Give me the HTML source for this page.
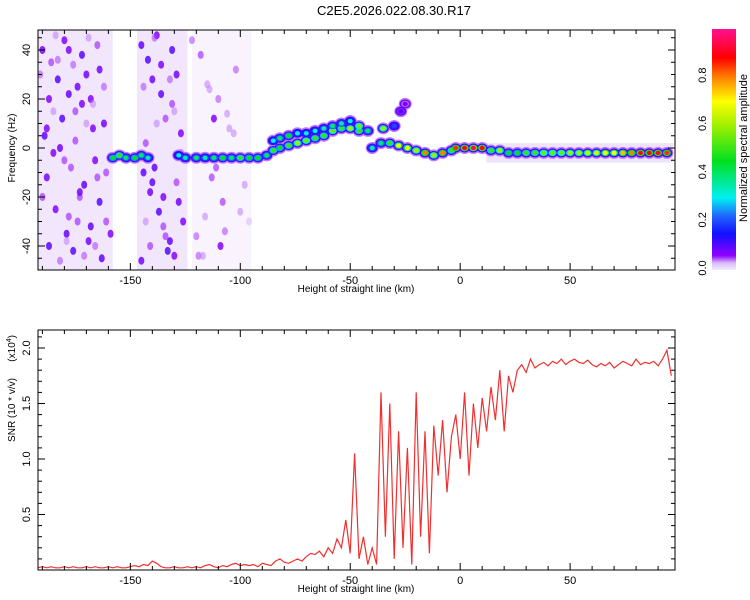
<!DOCTYPE html>
<html><head><meta charset="utf-8"><style>
body{margin:0;background:#fff;}
svg{display:block;font-family:"Liberation Sans",sans-serif;}
</style></head><body>
<svg id="c" width="750" height="600">
<defs>
<linearGradient id="cbg" x1="0" y1="1" x2="0" y2="0">
<stop offset="0" stop-color="#f4ecfc"/><stop offset="0.03" stop-color="#d8b8f8"/><stop offset="0.06" stop-color="#9000ff"/><stop offset="0.15" stop-color="#1010ff"/><stop offset="0.22" stop-color="#2060ff"/><stop offset="0.3" stop-color="#00f0f0"/><stop offset="0.45" stop-color="#00e020"/><stop offset="0.6" stop-color="#a0f000"/><stop offset="0.7" stop-color="#ffff00"/><stop offset="0.8" stop-color="#ff8000"/><stop offset="0.88" stop-color="#ff0000"/><stop offset="1" stop-color="#ff1090"/>
</linearGradient>
<clipPath id="clipTop"><rect x="38" y="30" width="637" height="240"/></clipPath>
<clipPath id="clipBot"><rect x="38" y="330" width="637" height="240"/></clipPath>
</defs>
<text x="394" y="15" text-anchor="middle" font-size="13">C2E5.2026.022.08.30.R17</text>
<g id="topG" clip-path="url(#clipTop)"></g>
<g id="topAxes"></g>
<g id="bot" clip-path="url(#clipBot)"></g>
<g id="botAxes"></g>
<rect x="712" y="29" width="24" height="241" fill="url(#cbg)"/>
<g id="cb"></g>
<text transform="translate(747,148) rotate(-90)" text-anchor="middle" font-size="11">Normalized spectral amplitude</text>
</svg>
<script>
const snrStart=-192, snrStep=2;
const snrValues=[0.02,0.03,0.02,0.03,0.02,0.02,0.03,0.02,0.03,0.02,0.02,0.03,0.02,0.03,0.02,0.02,0.03,0.02,0.03,0.02,0.02,0.03,0.04,0.03,0.05,0.04,0.08,0.06,0.03,0.02,0.02,0.03,0.02,0.02,0.03,0.02,0.03,0.02,0.04,0.05,0.03,0.02,0.04,0.03,0.05,0.06,
0.04,0.05,0.04,0.05,0.03,0.06,0.05,0.04,0.08,0.1,0.07,0.06,0.08,0.1,0.08,
0.12,0.15,0.14,0.17,0.12,0.2,0.15,0.28,0.2,0.45,
0.15,1.05,0.1,0.3,0.05,0.2,0.05,
1.6,0.3,1.5,0.1,1.25,0.2,1.1,0.05,1.6,0.3,1.25,0.15,
1.3,0.85,1.35,0.7,1.2,1.4,1.0,1.6,0.85,1.5,1.1,1.55,1.25,1.65,1.35,1.8,1.25,1.75,
1.6,1.8,1.85,1.78,1.9,1.82,1.85,1.87,1.84,1.88,1.86,1.9,1.85,1.88,1.9,1.87,1.86,1.89,1.85,1.83,1.86,1.84,1.87,1.82,1.85,1.88,1.86,1.84,1.9,1.85,1.87,1.86,1.88,1.84,1.9,1.98,
1.75];
const ridgeX=[-158,-155,-152,-148,-145,-142,-128,-125,-120,-116,-112,-108,-104,-100,-96,-92,-88,-85,-82,-78,-74,-70,-66,-62,-58,-54,-50,-46,-42,
-85,-82,-78,-74,-70,-66,-62,-58,-54,-50,-46,-35,-30,-27,-25,
-40,-36,-32,-28,-24,-20,-16,-12,-8,-4,-2,2,6,10,14,18,22,26,30,34,38,42,46,50,54,58,62,66,70,74,78,82,86,90,94];
const ridgeF=[-4,-3,-4,-4,-3,-4,-3,-4,-4,-4,-4,-4,-4,-4,-4,-4,-3,-1,0,1,2,3,4,5,7,8,8,7,7,
3,4,5,6,6,7,8,9,10,11,9,8,9,15,18,
0,2,2,1,0,-1,-2,-3,-2,-1,0,0,0,0,-1,-1,-2,-2,-2,-2,-2,-2,-2,-2,-2,-2,-2,-2,-2,-2,-2,-2,-2,-2,-2];
const ridgeA=[0.45,0.5,0.4,0.45,0.4,0.35,0.3,0.35,0.4,0.35,0.4,0.45,0.4,0.5,0.45,0.45,0.4,0.5,0.45,0.5,0.6,0.55,0.5,0.5,0.55,0.5,0.6,0.5,0.4,
0.3,0.4,0.45,0.3,0.3,0.3,0.35,0.4,0.35,0.3,0.55,0.6,0.2,0.1,0.08,
0.35,0.4,0.5,0.7,0.7,0.6,0.8,0.6,0.8,0.5,0.85,0.9,0.95,0.9,0.5,0.6,0.45,0.45,0.5,0.5,0.55,0.55,0.55,0.6,0.6,0.65,0.65,0.7,0.7,0.75,0.8,0.9,0.9,0.9,0.85];
const noiseX=[-190,-186,-183,-180,-178,-175,-172,-170,-168,-165,-162,-189,-185,-181,-177,-174,-171,-167,-164,-161,-188,-184,-179,-176,-173,-169,-166,-163,-187,-182,-178,-172,-168,-164,
-145,-142,-140,-138,-136,-134,-131,-129,-127,-144,-141,-137,-135,-132,-130,-128,-143,-139,-133,-126,-145,-140,-136,-131,
-122,-118,-115,-112,-110,-108,-120,-116,-113,-109,-105,-102,-98,-96,-119,-111,-106,
-191,-187,-184,-180,-176,-173,-169,-165,-162,-159,-190,-185,-182,-178,-174,-170,-166,-161,-188,-183,-179,-175,-171,-167,
-144,-141,-138,-135,-132,-129,-143,-139,-134,-130,-127,-117,-114,-107,-103,-100];
const noiseF=[40,35,28,44,22,15,38,30,20,42,10,5,-2,12,-8,25,-15,8,-22,-30,-12,-25,-35,-42,-20,-38,-5,-45,-40,0,-28,18,-32,32,
42,36,28,46,22,12,40,30,6,-10,-18,-26,-32,-38,-44,-22,2,-8,-42,-30,-46,-14,34,18,
44,38,26,12,20,-22,-36,-28,-12,-40,8,32,-15,-30,-44,-8,14,
30,20,46,-5,34,-18,45,-12,25,-35,-20,15,-46,40,-30,10,-40,-10,8,36,-38,3,-44,18,
25,-40,10,-20,28,-14,-30,45,-36,15,-2,-44,24,-34,6,-26];
const noiseA=[0.08,0.06,0.1,0.07,0.09,0.06,0.1,0.08,0.07,0.06,0.08,0.09,0.07,0.1,0.06,0.08,0.09,0.07,0.1,0.06,0.08,0.07,0.09,0.1,0.06,0.08,0.07,0.09,0.1,0.08,0.06,0.07,0.09,0.08,
0.09,0.1,0.08,0.07,0.09,0.06,0.1,0.08,0.07,0.09,0.08,0.1,0.06,0.09,0.07,0.08,0.06,0.09,0.1,0.07,0.08,0.09,0.07,0.06,
0.05,0.06,0.04,0.07,0.05,0.06,0.05,0.04,0.06,0.07,0.04,0.05,0.04,0.03,0.05,0.06,0.04,
0.05,0.07,0.04,0.06,0.05,0.08,0.04,0.06,0.05,0.07,0.06,0.04,0.05,0.07,0.06,0.04,0.05,0.06,0.07,0.05,0.04,0.06,0.05,0.04,
0.05,0.06,0.04,0.07,0.05,0.06,0.04,0.05,0.06,0.04,0.05,0.04,0.04,0.05,0.04,0.04];
const xTicks=[-150,-100,-50,0,50];
const freqTicks=[-40,-20,0,20,40];
const snrTicks=[0.5,1.0,1.5,2.0];
const cbTicks=[0.0,0.2,0.4,0.6,0.8];

const NS="http://www.w3.org/2000/svg";
const X0=38,X1=675,XMIN=-192,XMAX=97.7;
const sx=v=>X0+(v-XMIN)/(XMAX-XMIN)*(X1-X0);
const syF=f=>148-f*2.45;
const syS=s=>570-s*111;
function mk(t,a,p){const e=document.createElementNS(NS,t);for(const k in a)e.setAttribute(k,a[k]);(p||document.getElementById('c')).appendChild(e);return e;}
const stops=[[0,[244,236,252]],[0.03,[216,184,248]],[0.06,[144,0,255]],[0.15,[16,16,255]],[0.22,[32,96,255]],[0.3,[0,240,240]],[0.45,[0,224,32]],[0.6,[160,240,0]],[0.7,[255,255,0]],[0.8,[255,128,0]],[0.88,[255,0,0]],[1,[255,16,144]]];
function cmap(v){v=Math.max(0,Math.min(1,v));for(let i=1;i<stops.length;i++){if(v<=stops[i][0]){const[a,ca]=stops[i-1],[b,cb]=stops[i];const t=(v-a)/(b-a);return`rgb(${ca.map((c,j)=>Math.round(c+(cb[j]-c)*t)).join(',')})`;}}return'rgb(255,16,144)';}

const topG=document.getElementById('topG');
[[-192,-158],[-147,-124],[-122,-95]].forEach((r,i)=>{const h=mk('rect',{x:sx(r[0]),y:30,width:sx(r[1])-sx(r[0]),height:240,fill:i==2?'#f8f3fd':'#f1e6fb'},topG);

});
const band=mk('rect',{x:sx(12),y:syF(2),width:sx(97)-sx(12),height:syF(-6)-syF(2),fill:'#efe3fa'},topG);


noiseX.forEach((x,i)=>{const a=noiseA[i];const e=mk('ellipse',{cx:sx(x),cy:syF(noiseF[i]),rx:3,ry:4,fill:cmap(a),'fill-opacity':a>0.065?0.85:0.55},topG);

});
[[0.04,6.5,6],[0.12,5.5,4.5]].forEach(l=>{ridgeX.forEach((x,i)=>{mk('ellipse',{cx:sx(x),cy:syF(ridgeF[i]),rx:l[1],ry:l[2],fill:cmap(Math.min(l[0],ridgeA[i]))},topG);});});
ridgeX.forEach((x,i)=>{const a=ridgeA[i];
mk('ellipse',{cx:sx(x),cy:syF(ridgeF[i]),rx:4,ry:3.2,fill:cmap(a*0.55)},topG);
const e=mk('ellipse',{cx:sx(x),cy:syF(ridgeF[i]),rx:2.5,ry:2.2,fill:cmap(a)},topG);

});

function axes(g,y0,y1,yt,syf,ylabel,ly){
 const G=document.getElementById(g);
 const f=mk('rect',{x:X0,y:y0,width:X1-X0,height:y1-y0,fill:'none',stroke:'#000','stroke-width':1},G);
 
 
 for(let v=-190;v<=95;v+=10){const L=v%50==0?7:4;mk('line',{x1:sx(v),x2:sx(v),y1:y1,y2:y1-L,stroke:'#000'},G);mk('line',{x1:sx(v),x2:sx(v),y1:y0,y2:y0+L,stroke:'#000'},G);}
 xTicks.forEach(v=>{const t=mk('text',{x:sx(v),y:y1+14,'text-anchor':'middle','font-size':11},G);t.textContent=v;
 
 });
 const xt=mk('text',{x:356,y:y1+22,'text-anchor':'middle','font-size':10},G);xt.textContent='Height of straight line (km)';
 
 
 yt.minor.forEach(v=>{const y=syf(v);const L=yt.major.includes(v)?7:4;mk('line',{x1:X0,x2:X0+L,y1:y,y2:y,stroke:'#000'},G);mk('line',{x1:X1,x2:X1-L,y1:y,y2:y,stroke:'#000'},G);});
 yt.major.forEach(v=>{const t=mk('text',{transform:`translate(${X0-8},${syf(v)}) rotate(-90)`,'text-anchor':'middle','font-size':11},G);t.textContent=yt.fmt(v);
 
 });
 const yl=mk('text',{transform:`translate(15,${ly}) rotate(-90)`,'text-anchor':'middle','font-size':10},G);yl.textContent=ylabel;
 
 
}
const fm=[];for(let v=-45;v<=45;v+=5)fm.push(v);
axes('topAxes',30,270,{major:freqTicks,minor:fm,fmt:v=>v},syF,'Frequency (Hz)',148);
const sm=[];for(let v=0.1;v<2.15;v+=0.1)sm.push(Math.round(v*10)/10);
axes('botAxes',330,570,{major:snrTicks,minor:sm,fmt:v=>v.toFixed(1)},syS,'SNR (10 * v/v)',410);
const ex=mk('text',{transform:'translate(15,335) rotate(-90)','text-anchor':'end','font-size':10});ex.innerHTML='(x10<tspan dy="-4" font-size="7">4</tspan><tspan dy="4">)</tspan>';



const bot=document.getElementById('bot');
const pts=snrValues.map((v,i)=>`${sx(snrStart+i*snrStep).toFixed(1)},${syS(v).toFixed(1)}`).join(' ');
const pl=mk('polyline',{points:pts,fill:'none',stroke:'#f03030','stroke-width':1.2},bot);



const cb=document.getElementById('cb');
cbTicks.forEach(v=>{const y=268-241*v;const t=mk('text',{transform:`translate(706,${y}) rotate(-90)`,'text-anchor':'middle','font-size':11},cb);t.textContent=v.toFixed(1);

});
</script>
</body></html>
